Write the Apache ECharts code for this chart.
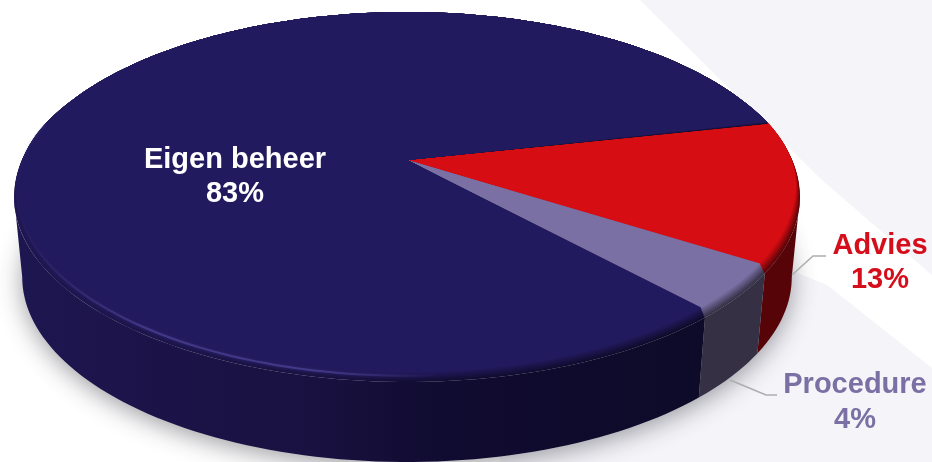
<!DOCTYPE html>
<html>
<head>
<meta charset="utf-8">
<style>html,body{margin:0;padding:0;background:#fff}#chart{width:932px;height:462px}</style>
<script src="https://cdn.jsdelivr.net/npm/echarts@6/dist/echarts.min.js"></script>
</head>
<body>
<div id="chart"></div>
<script>
// Shares of the three handling routes
const categories = ['Eigen beheer', 'Advies', 'Procedure'];
const shares = [83, 13, 4];

// Appearance of each slice
const faceColors = ['#221a5e', '#d60d13', '#7a70a4'];
const wallColors = ['#1a1242', '#560408', '#353044'];
const labelColors = ['#ffffff', '#d60d1b', '#7a70a4'];
const labelSpots = [[235, 160, 194], [880, 246, 280], [855, 385, 420]];

// Slices run clockwise on screen from the Advies edge, just above the right-hand side
const START_DEG = -12.3;
const order = [1, 2, 0];

// Perspective disc: unit circle (u, v) to screen, near side larger than far side
const K = 0.2;
const TOP = { cx: 407, cy: 160, rx: 385, ry: 177.6 };
const BOTTOM = { cx: 407, cy: 240, rx: 377, ry: 177.6 };
// Where the disc's outline turns from near side to far side
const SILHOUETTE_DEG = Math.asin(K) * 180 / Math.PI;

function project(disc, deg) {
  const t = deg * Math.PI / 180;
  const u = Math.cos(t), v = Math.sin(t);
  const w = 1 - K * v;
  return [disc.cx + disc.rx * u / w, disc.cy + disc.ry * v / w];
}
function arc(disc, a, b) {
  const pts = [];
  const n = Math.max(2, Math.ceil(Math.abs(b - a) / 1.5));
  for (let i = 0; i <= n; i++) pts.push(project(disc, a + (b - a) * i / n));
  return pts;
}
function mix(c1, c2, t) {
  const p = c => [1, 3, 5].map(i => parseInt(c.substr(i, 2), 16));
  const a = p(c1), b = p(c2);
  return 'rgb(' + a.map((x, i) => Math.round(x + (b[i] - x) * t)).join(',') + ')';
}
// How strongly the bevel shows: none on the far rim, full on the near rim
function rimWeight(deg) {
  const s = Math.sin(deg * Math.PI / 180);
  return Math.min(1, Math.max(0, (s + 0.35) / 0.7));
}
function rimPoint(deg, frac) {
  const p = project(TOP, deg);
  const w = rimWeight(deg) * frac;
  return [TOP.cx + (p[0] - TOP.cx) * (1 - 0.013 * w), p[1] - 10 * w];
}
// Top-face outline pulled inward along the rim by a fraction of the bevel width
function faceOutline(a, b, frac) {
  const n = Math.max(2, Math.ceil((b - a) / 1.5));
  const pts = [[TOP.cx, TOP.cy]];
  for (let i = 0; i <= n; i++) pts.push(rimPoint(a + (b - a) * i / n, frac));
  return pts;
}

// Angular extents of every slice, from the shares
const extents = {};
(function () {
  const total = shares.reduce((s, v) => s + v, 0);
  let a = START_DEG;
  order.forEach(i => {
    const span = shares[i] / total * 360;
    extents[i] = [a, a + span];
    a += span;
  });
})();

// The large slice's wall darkens from left to right, across the page
const navyWallStops = [[0, '#1e1650'], [0.38, '#191140'], [0.55, '#100b30'], [1, '#0d0a26']];
function navyGradient(toward, t) {
  return { type: 'linear', global: true, x: 14, y: 0, x2: 800, y2: 0,
    colorStops: navyWallStops.map(s => ({ offset: s[0], color: mix(s[1], toward, t) })) };
}

function renderAll() {
  const children = [];
  // Soft drop shadow under the disc
  children.push({
    type: 'polygon', shape: { points: arc(BOTTOM, 0, 360) },
    style: { fill: '#c8c8cc', shadowBlur: 24, shadowOffsetY: 5, shadowColor: 'rgba(40,40,50,0.45)' }
  });
  // Walls: only the stretch between the two outline turning points can be seen
  order.forEach(i => {
    const a = Math.max(extents[i][0], SILHOUETTE_DEG), b = Math.min(extents[i][1], 180 - SILHOUETTE_DEG);
    if (b <= a) return;
    const pts = arc(TOP, a, b).concat(arc(BOTTOM, a, b).reverse());
    children.push({ type: 'polygon', shape: { points: pts },
      style: { fill: i === 0 ? navyGradient(faceColors[0], 0) : wallColors[i] } });
  });
  // Top faces, stacked from the wall tone to the face tone to form the bevel
  const steps = 12;
  order.forEach(i => {
    const [a, b] = extents[i];
    for (let k = 0; k <= steps; k++) {
      const t = k / steps;
      children.push({ type: 'polygon', shape: { points: faceOutline(a, b, t) },
        style: { fill: i === 0 ? navyGradient(faceColors[0], t) : mix(wallColors[i], faceColors[i], t) } });
    }
  });
  // Light catch along the left of the near rim
  const glint = [];
  for (let d = 85; d <= 192; d += 1.5) glint.push(rimPoint(d, 0.62));
  children.push({ type: 'polyline', shape: { points: glint }, style: { fill: null, lineWidth: 2,
    shadowBlur: 3, shadowColor: 'rgba(90,80,170,0.45)',
    stroke: { type: 'linear', global: true, x: 20, y: 0, x2: 440, y2: 0, colorStops: [
      { offset: 0, color: 'rgba(70,62,140,0.05)' }, { offset: 0.3, color: 'rgba(74,66,150,0.7)' },
      { offset: 0.7, color: 'rgba(74,66,150,0.75)' }, { offset: 1, color: 'rgba(74,66,150,0)' }] } } });
  // Leader lines
  [[[792, 275], [813, 256], [826, 256]], [[730, 380], [766, 395], [777, 395]]].forEach(points => {
    children.push({ type: 'polyline', shape: { points }, style: { fill: null, stroke: '#adadad', lineWidth: 1.5 } });
  });
  // Labels
  categories.forEach((name, i) => {
    const [x, y1, y2] = labelSpots[i];
    [name, shares[i] + '%'].forEach((text, j) => {
      children.push({ type: 'text', style: { text, x, y: j ? y2 : y1, align: 'center', verticalAlign: 'middle',
        fill: labelColors[i], font: 'bold 29px "Liberation Sans", Arial, sans-serif' } });
    });
  });
  return { type: 'group', children };
}

const chart = echarts.init(document.getElementById('chart'), null, { renderer: 'canvas' });
chart.setOption({
  animation: false,
  backgroundColor: '#ffffff',
  graphic: [
    { type: 'polygon', silent: true, z: -1, shape: { points: [[640, 0], [932, 0], [932, 275], [822, 180]] }, style: { fill: '#f4f4f9' } },
    { type: 'polygon', silent: true, z: -1, shape: { points: [[795, 272], [827, 285], [932, 368], [932, 462], [500, 462], [500, 400]] }, style: { fill: '#f4f4f9' } }
  ],
  series: [{
    type: 'custom',
    coordinateSystem: 'none',
    silent: true,
    data: [shares],
    renderItem: renderAll
  }]
});
</script>
</body>
</html>
